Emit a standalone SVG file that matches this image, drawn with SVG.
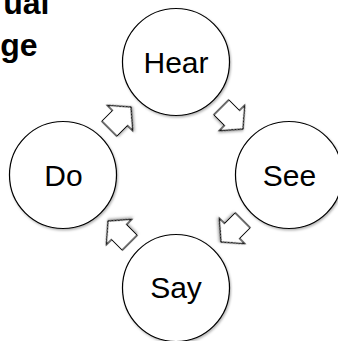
<svg xmlns="http://www.w3.org/2000/svg" width="338" height="341" viewBox="0 0 338 341">
  <style>
    .node circle { fill: #ffffff; stroke: #000000; stroke-width: 1.2; filter: url(#sh); }
    .node text { font-family: "Liberation Sans", Arial, sans-serif; font-size: 30px; fill: #000000; text-anchor: middle; }
    .arrow { fill: #ffffff; stroke: #000000; stroke-width: 1.2; stroke-linejoin: miter; filter: url(#sh); }
    .title { font-family: "Liberation Sans", Arial, sans-serif; font-weight: bold; font-size: 32px; fill: #000000; text-anchor: end; }
  </style>
  <defs>
    <filter id="sh" x="-20%" y="-20%" width="140%" height="140%">
      <feDropShadow dx="1" dy="1.5" stdDeviation="1" flood-color="#000000" flood-opacity="0.3"/>
    </filter>
    <polygon id="blockArrow" points="-15,-10.5 0,-10.5 0,-18 15.5,0 0,18 0,10.5 -15,10.5"/>
  </defs>
  <rect width="338" height="341" fill="#ffffff"/>

  <g id="title">
    <text class="title" x="49.5" y="14">ual</text>
    <text class="title" x="37.5" y="56">ge</text>
  </g>

  <g id="connectors">
    <use href="#blockArrow" class="arrow" transform="translate(120,118) rotate(-45)"/>
    <use href="#blockArrow" class="arrow" transform="translate(232,118) rotate(45)"/>
    <use href="#blockArrow" class="arrow" transform="translate(232,231) rotate(135)"/>
    <use href="#blockArrow" class="arrow" transform="translate(119,232) rotate(-135)"/>
  </g>

  <g id="hear" class="node">
    <circle cx="176" cy="62" r="53.5"/>
    <text x="176" y="72.5">Hear</text>
  </g>
  <g id="see" class="node">
    <circle cx="289" cy="175" r="53.5"/>
    <text x="289.5" y="185.5">See</text>
  </g>
  <g id="say" class="node">
    <circle cx="176" cy="288" r="53.5"/>
    <text x="176" y="297.5">Say</text>
  </g>
  <g id="do" class="node">
    <circle cx="63" cy="175" r="53.5"/>
    <text x="63.5" y="185.5">Do</text>
  </g>
</svg>
